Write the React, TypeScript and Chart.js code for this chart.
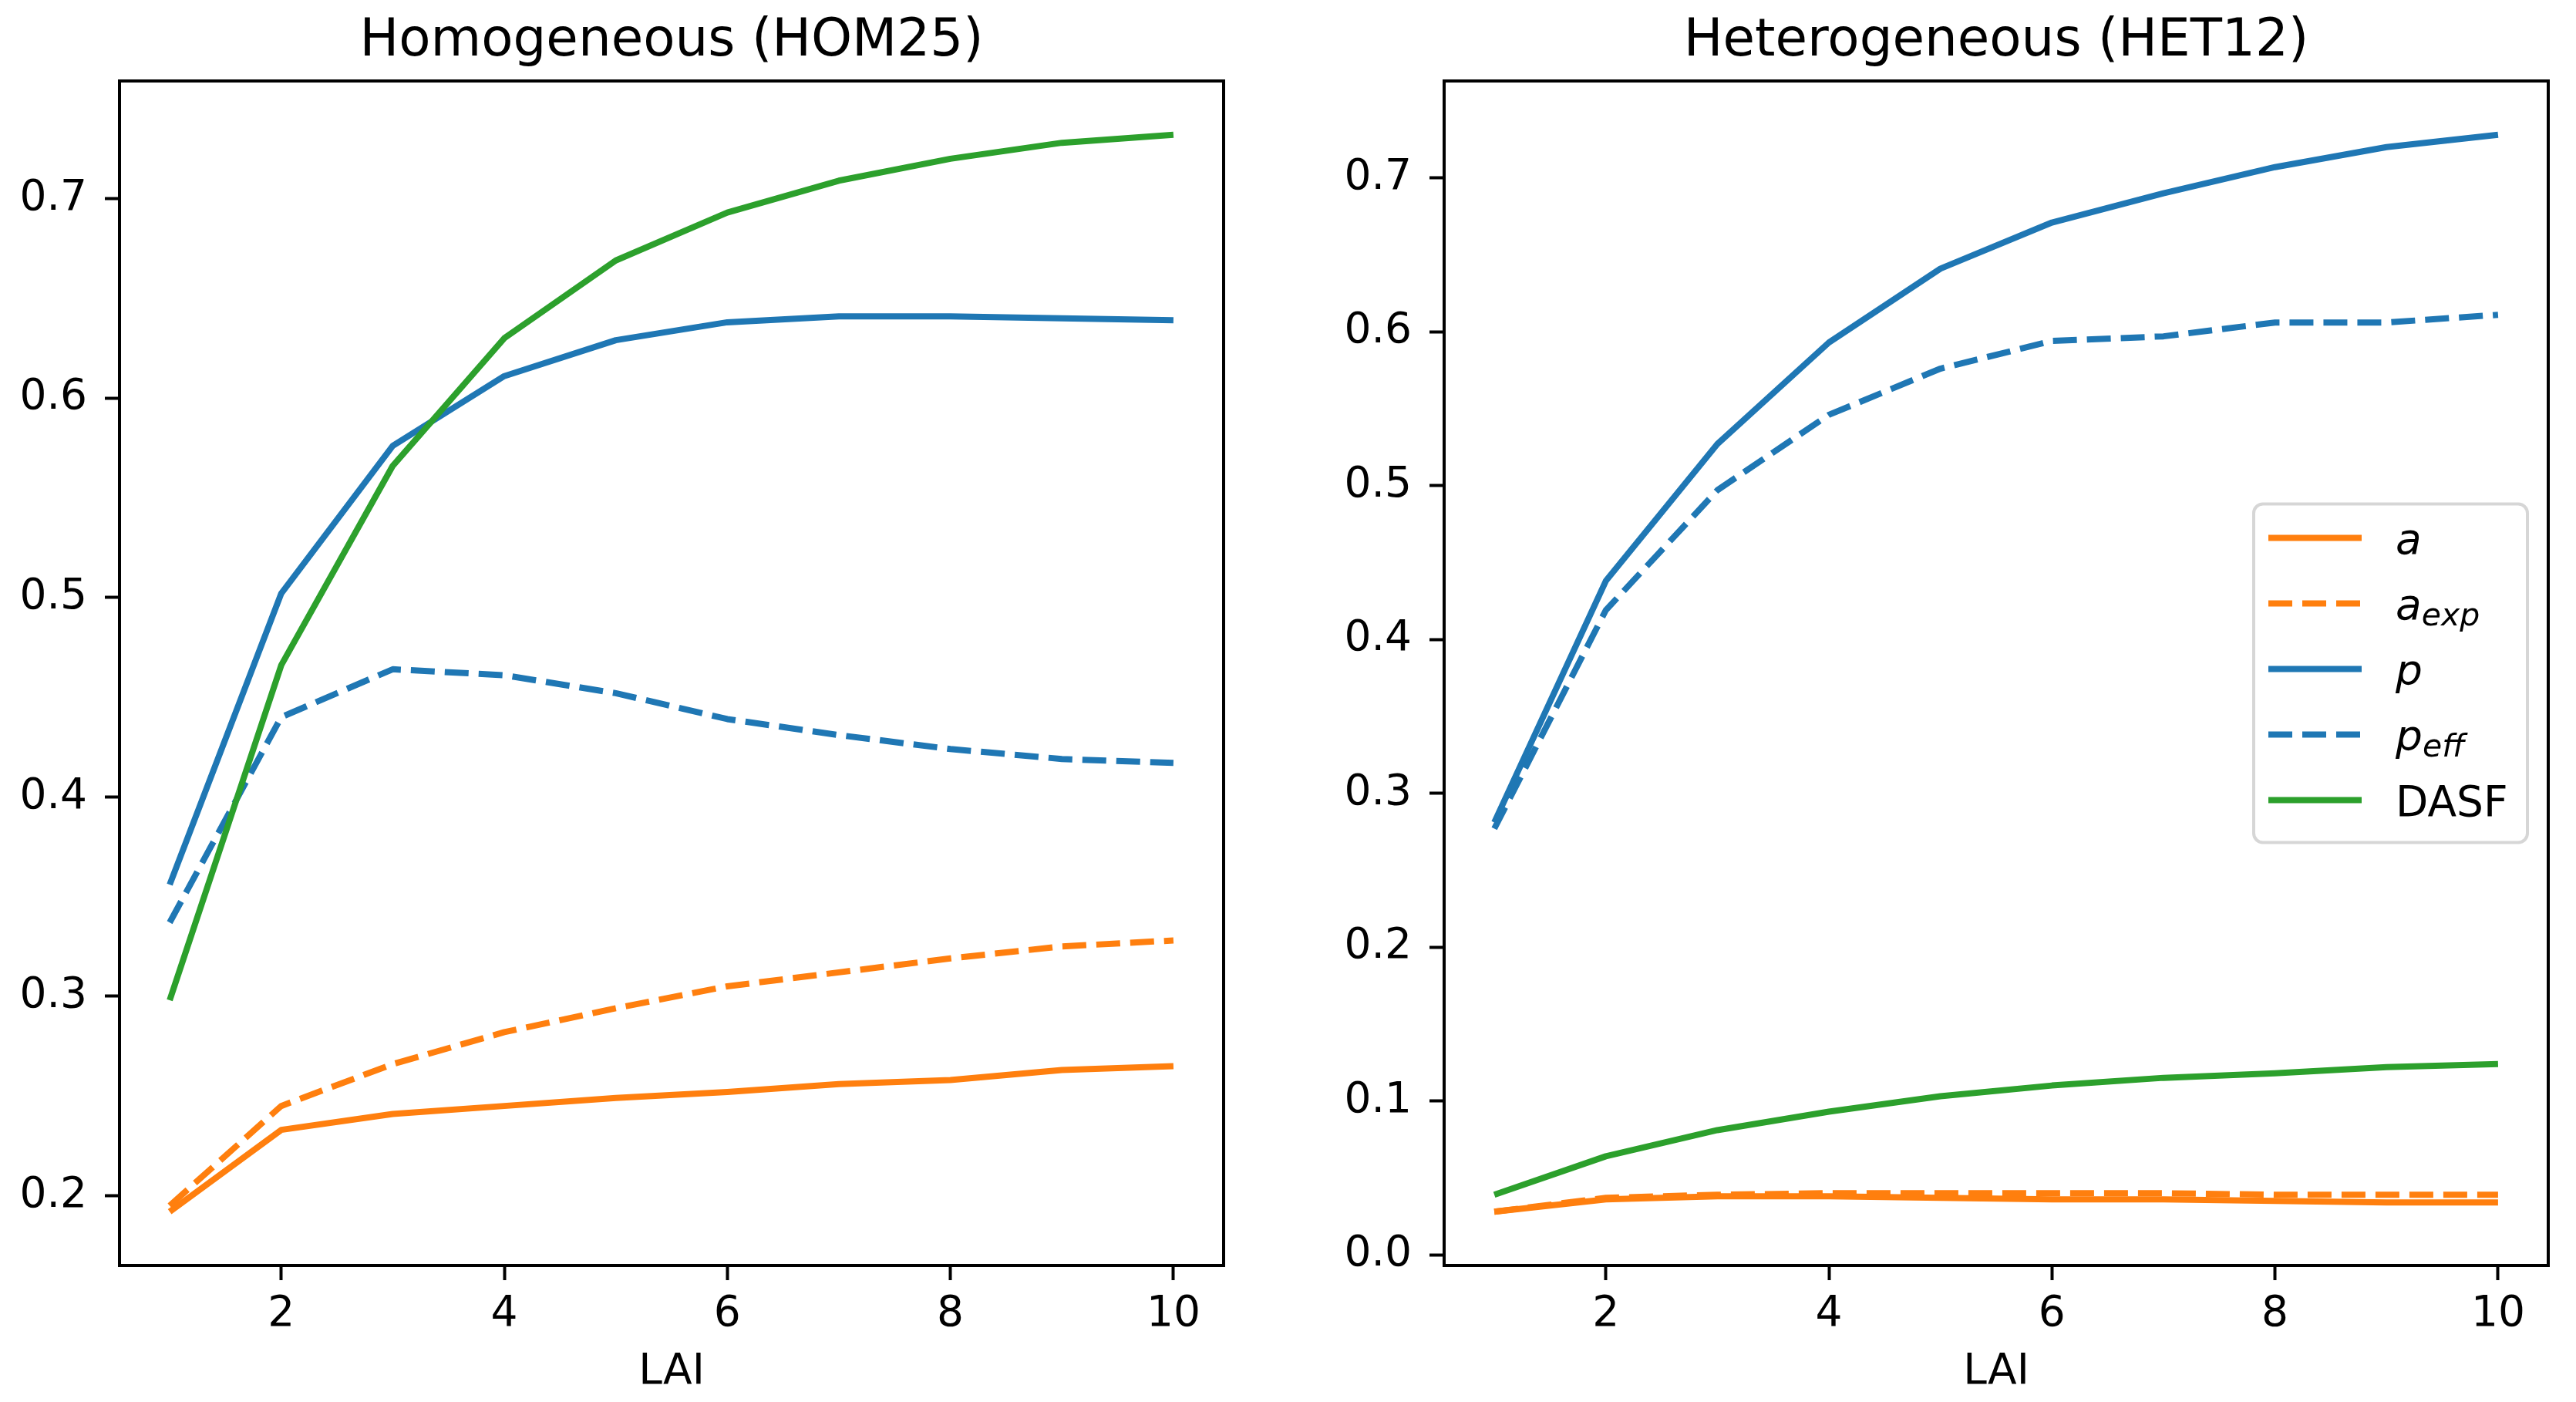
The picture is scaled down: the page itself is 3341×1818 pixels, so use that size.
import React, { useEffect, useRef } from "react";
import { Chart, registerables } from "chart.js";

Chart.register(...registerables);

// LAI steps on the x axis
const lai = [1, 2, 3, 4, 5, 6, 7, 8, 9, 10];

// Homogeneous (HOM25)
const homA = [0.192, 0.233, 0.241, 0.245, 0.249, 0.252, 0.256, 0.258, 0.263, 0.265];
const homAexp = [0.195, 0.245, 0.266, 0.282, 0.294, 0.305, 0.312, 0.319, 0.325, 0.328];
const homP = [0.356, 0.502, 0.576, 0.611, 0.629, 0.638, 0.641, 0.641, 0.640, 0.639];
const homPeff = [0.337, 0.440, 0.464, 0.461, 0.452, 0.439, 0.431, 0.424, 0.419, 0.417];
const homDasf = [0.298, 0.466, 0.566, 0.630, 0.669, 0.693, 0.709, 0.720, 0.728, 0.732];

// Heterogeneous (HET12)
const hetA = [0.028, 0.036, 0.038, 0.038, 0.037, 0.036, 0.036, 0.035, 0.034, 0.034];
const hetAexp = [0.028, 0.037, 0.039, 0.040, 0.040, 0.040, 0.040, 0.039, 0.039, 0.039];
const hetP = [0.281, 0.438, 0.527, 0.593, 0.641, 0.671, 0.690, 0.707, 0.720, 0.728];
const hetPeff = [0.277, 0.419, 0.497, 0.546, 0.576, 0.594, 0.597, 0.606, 0.606, 0.611];
const hetDasf = [0.039, 0.064, 0.081, 0.093, 0.103, 0.110, 0.115, 0.118, 0.122, 0.124];

const xTicks = [2, 4, 6, 8, 10];
const homYTicks = [0.2, 0.3, 0.4, 0.5, 0.6, 0.7];
const hetYTicks = [0.0, 0.1, 0.2, 0.3, 0.4, 0.5, 0.6, 0.7];

type SeriesLabel = { main: string; sub?: string; italic: boolean };
const seriesLabels: SeriesLabel[] = [
  { main: "a", italic: true },
  { main: "a", sub: "exp", italic: true },
  { main: "p", italic: true },
  { main: "p", sub: "eff", italic: true },
  { main: "DASF", italic: false },
];
const seriesColors = ["#ff7f0e", "#ff7f0e", "#1f77b4", "#1f77b4", "#2ca02c"];
const seriesDashed = [false, true, false, true, false];

const FONT = '"DejaVu Sans", sans-serif';
const LW = 8;
const DASH = [31, 13];

// matplotlib-style 5% margins
function padRange(series: number[][], margin = 0.05) {
  const all = series.flat();
  const lo = Math.min(...all);
  const hi = Math.max(...all);
  const d = (hi - lo) * margin;
  return { min: lo - d, max: hi + d };
}

function makeDecor(title: string, withLegend: boolean) {
  return {
    id: "decor",
    afterDatasetsDraw: (chart: any) => {
      const { ctx, chartArea } = chart;
      const { left, right, top, bottom } = chartArea;
      ctx.save();
      // frame (all four spines)
      ctx.strokeStyle = "#000";
      ctx.lineWidth = 4;
      ctx.strokeRect(left, top, right - left, bottom - top);
      // title centred on the axes
      ctx.fillStyle = "#000";
      ctx.font = `67.5px ${FONT}`;
      ctx.textAlign = "center";
      ctx.textBaseline = "alphabetic";
      ctx.fillText(title, (left + right) / 2, 72);
      ctx.restore();
    },
    afterDraw: (chart: any) => {
      if (!withLegend) return;
      const { ctx, chartArea } = chart;
      const w = 355;
      const h = 439;
      const bx = chartArea.right - 27 - w;
      const by = (chartArea.top + chartArea.bottom) / 2 - h / 2;
      const r = 12;
      ctx.save();
      ctx.beginPath();
      ctx.moveTo(bx + r, by);
      ctx.lineTo(bx + w - r, by);
      ctx.arcTo(bx + w, by, bx + w, by + r, r);
      ctx.lineTo(bx + w, by + h - r);
      ctx.arcTo(bx + w, by + h, bx + w - r, by + h, r);
      ctx.lineTo(bx + r, by + h);
      ctx.arcTo(bx, by + h, bx, by + h - r, r);
      ctx.lineTo(bx, by + r);
      ctx.arcTo(bx, by, bx + r, by, r);
      ctx.closePath();
      ctx.fillStyle = "rgba(255,255,255,0.8)";
      ctx.fill();
      ctx.strokeStyle = "rgba(204,204,204,0.8)";
      ctx.lineWidth = 4;
      ctx.stroke();

      chart.data.datasets.forEach((ds: any, i: number) => {
        const y = by + 44 + i * 85;
        ctx.beginPath();
        ctx.setLineDash(ds.borderDash || []);
        ctx.strokeStyle = ds.borderColor;
        ctx.lineWidth = LW;
        ctx.lineCap = "butt";
        ctx.moveTo(bx + 19, y);
        ctx.lineTo(bx + 140, y);
        ctx.stroke();
        ctx.setLineDash([]);

        const lab = seriesLabels[i];
        const tx = bx + 184;
        const base = y + 20;
        ctx.fillStyle = "#000";
        ctx.textAlign = "left";
        ctx.textBaseline = "alphabetic";
        ctx.font = `${lab.italic ? "italic " : ""}55px ${FONT}`;
        ctx.fillText(lab.main, tx, base);
        if (lab.sub) {
          const mw = ctx.measureText(lab.main).width;
          ctx.font = `italic 41px ${FONT}`;
          ctx.fillText(lab.sub, tx + mw, base + 8);
        }
      });
      ctx.restore();
    },
  };
}

type PanelProps = {
  title: string;
  series: number[][];
  yTicks: number[];
  width: number;
  areaLeft: number;
  areaRight: number;
  legend: boolean;
};

function Panel({ title, series, yTicks, width, areaLeft, areaRight, legend }: PanelProps) {
  const canvasRef = useRef<HTMLCanvasElement | null>(null);

  useEffect(() => {
    const ctx = canvasRef.current?.getContext("2d");
    if (!ctx) return;
    const yr = padRange(series);
    const xr = padRange([lai]);

    const datasets = series.map((vals, i) => ({
      label: seriesLabels[i].main + (seriesLabels[i].sub ?? ""),
      data: lai.map((x, j) => ({ x, y: vals[j] })),
      borderColor: seriesColors[i],
      backgroundColor: seriesColors[i],
      borderWidth: LW,
      borderDash: seriesDashed[i] ? DASH : [],
      borderJoinStyle: "round" as const,
      pointRadius: 0,
      tension: 0,
      fill: false,
      order: series.length - 1 - i,
    }));

    const tickGrid = {
      drawOnChartArea: false,
      drawTicks: true,
      tickLength: 19,
      tickWidth: 4,
      tickColor: "#000",
      color: "#000",
    };

    const chart = new Chart(ctx, {
      type: "line",
      data: { datasets },
      options: {
        animation: false,
        responsive: false,
        devicePixelRatio: 1,
        layout: { padding: { top: 105, right: width - areaRight, bottom: 0, left: 0 } },
        plugins: {
          legend: { display: false },
          title: { display: false },
          tooltip: { enabled: false },
        },
        scales: {
          x: {
            type: "linear",
            min: xr.min,
            max: xr.max,
            afterBuildTicks: (s: any) => {
              s.ticks = xTicks.map((v) => ({ value: v }));
            },
            afterFit: (s: any) => {
              s.height = 177;
            },
            grid: tickGrid,
            border: { display: false },
            ticks: {
              color: "#000",
              font: { family: FONT, size: 55 },
              padding: 12,
              maxRotation: 0,
              callback: (v: any) => String(v),
            },
            title: {
              display: true,
              text: "LAI",
              color: "#000",
              font: { family: FONT, size: 55 },
              padding: { top: 0, bottom: 5 },
            },
          },
          y: {
            type: "linear",
            min: yr.min,
            max: yr.max,
            afterBuildTicks: (s: any) => {
              s.ticks = yTicks.map((v) => ({ value: v }));
            },
            afterFit: (s: any) => {
              s.width = areaLeft;
            },
            grid: tickGrid,
            border: { display: false },
            ticks: {
              color: "#000",
              font: { family: FONT, size: 55 },
              padding: 23,
              callback: (v: any) => Number(v).toFixed(1),
            },
          },
        },
      } as any,
      plugins: [makeDecor(title, legend)],
    });

    return () => {
      chart.destroy();
    };
  }, [title, series, yTicks, width, areaLeft, areaRight, legend]);

  return (
    <canvas
      ref={canvasRef}
      width={width}
      height={1818}
      style={{ width, height: 1818, display: "block" }}
    />
  );
}

const homSeries = [homA, homAexp, homP, homPeff, homDasf];
const hetSeries = [hetA, hetAexp, hetP, hetPeff, hetDasf];

export default function App() {
  return (
    <div
      style={{
        position: "fixed",
        left: 0,
        top: 0,
        width: 3341,
        height: 1818,
        background: "#fff",
        display: "flex",
      }}
    >
      <Panel
        title="Homogeneous (HOM25)"
        series={homSeries}
        yTicks={homYTicks}
        width={1670}
        areaLeft={155}
        areaRight={1587}
        legend={false}
      />
      <Panel
        title="Heterogeneous (HET12)"
        series={hetSeries}
        yTicks={hetYTicks}
        width={1671}
        areaLeft={203}
        areaRight={1635}
        legend={true}
      />
    </div>
  );
}
